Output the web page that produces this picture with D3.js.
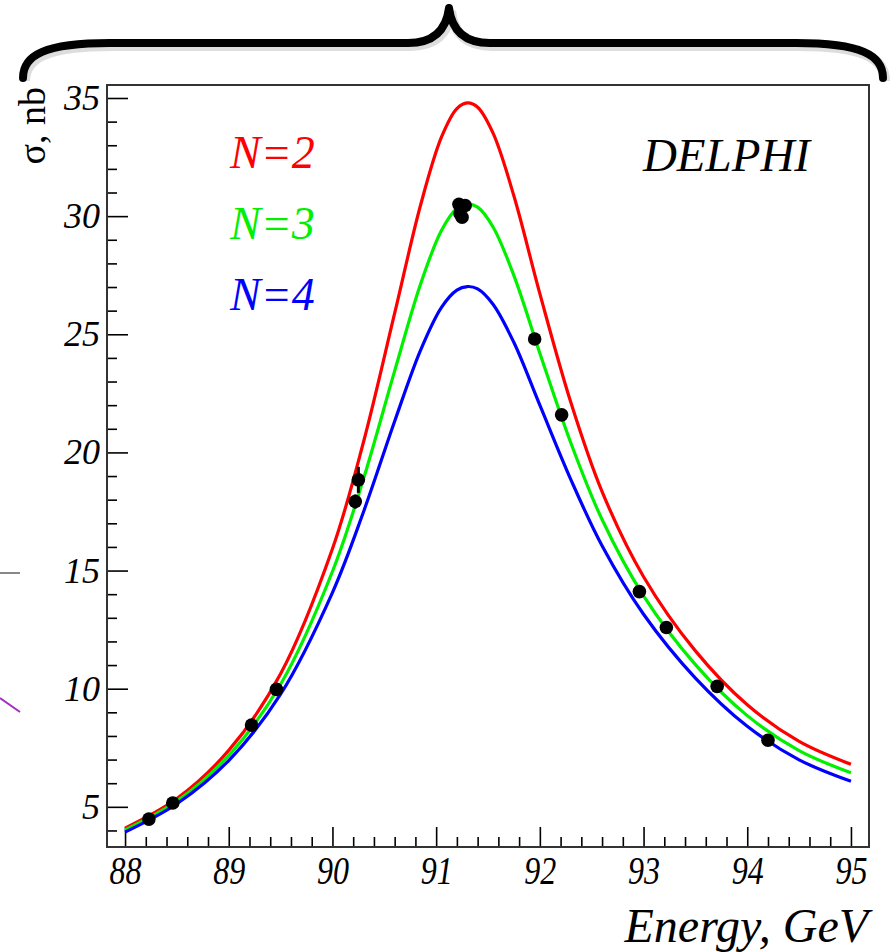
<!DOCTYPE html>
<html>
<head>
<meta charset="utf-8">
<script src="https://cdn.jsdelivr.net/npm/d3@7"></script>
<style>
	html, body { margin: 0; padding: 0; background: #fff; }
	svg { display: block; }
	text { font-family: "Liberation Serif", "DejaVu Serif", serif; }
</style>
</head>
<body>
<svg id="svgarea" width="893" height="952"></svg>
<script>
// curve sample energies (GeV)
const energies	= [88, 88.5, 89, 89.5, 90, 90.3, 90.6, 90.85, 91.05, 91.2, 91.3, 91.4, 91.55, 91.75, 92.0, 92.3, 92.6, 93.0, 93.5, 94.0, 94.5, 95.0];
// cross sections, nb
const sigmaN2	= [4.10, 5.35, 7.39, 10.63, 15.92, 20.45, 25.89, 30.47, 33.33, 34.55, 34.79, 34.61, 33.50, 30.85, 26.72, 22.10, 18.34, 14.74, 11.60, 9.32, 7.77, 6.80];
const sigmaN3	= [4.02, 5.24, 7.17, 10.19, 14.96, 18.89, 23.45, 27.13, 29.38, 30.33, 30.51, 30.38, 29.53, 27.48, 24.20, 20.39, 17.16, 13.93, 11.02, 8.86, 7.38, 6.44];
const sigmaN4	= [3.93, 5.13, 6.96, 9.77, 14.07, 17.49, 21.32, 24.33, 26.13, 26.87, 27.02, 26.92, 26.26, 24.65, 22.00, 18.84, 16.05, 13.15, 10.45, 8.41, 6.99, 6.08];

const curveLabels	= ['N=2', 'N=3', 'N=4'];
const curveColors	= ['#ff0000', '#00f000', '#0000ff'];

// DELPHI measurements
const dataE		= [88.23, 88.46, 89.22, 89.46, 90.22, 90.25, 91.22, 91.28, 91.23, 91.25, 91.95, 92.21, 92.96, 93.22, 93.71, 94.2];
const dataSigma	= [4.48, 5.16, 8.46, 9.97, 17.92, 18.84, 30.50, 30.45, 30.10, 29.95, 24.80, 21.59, 14.11, 12.59, 10.10, 7.82];
const dataErr	= [0.08, 0.10, 0.15, 0.15, 0.30, 0.55, 0.10, 0.10, 0.10, 0.10, 0.20, 0.20, 0.15, 0.15, 0.12, 0.12];

const xMajor	= [88, 89, 90, 91, 92, 93, 94, 95];
const yMajor	= [5, 10, 15, 20, 25, 30, 35];

const frame = {left: 107, right: 869, top: 85, bottom: 847};

var svg = d3.select('#svgarea');

var x = d3.scaleLinear().domain([87.826, 95.174]).range([frame.left, frame.right]);
var y = d3.scaleLinear().domain([3.3, 35.55]).range([frame.bottom, frame.top]);

// the brace above the chart
var brace = 'M23,78 C23,55 45,43 110,43 L408,43 C432,43 446,32 449,8 ' +
			'C452,32 466,43 490,43 L796,43 C861,43 883,55 883,78';
svg.append('path').attr('d', brace).
	attr('fill', 'none').attr('stroke', '#bbb').attr('stroke-width', 10).
	attr('transform', 'translate(2,3)').attr('opacity', 0.5);
svg.append('path').attr('d', brace).
	attr('fill', 'none').attr('stroke', '#000').attr('stroke-width', 8).
	attr('stroke-linecap', 'round').attr('stroke-linejoin', 'round');

// leftovers from the slide on the left edge
svg.append('line').attr('x1', 0).attr('y1', 573).attr('x2', 20).attr('y2', 573).
	attr('stroke', '#888').attr('stroke-width', 2);
svg.append('line').attr('x1', 0).attr('y1', 698).attr('x2', 20).attr('y2', 712).
	attr('stroke', '#a030c0').attr('stroke-width', 2);

var g = svg.append('g');

// minor ticks
var xMinor = d3.range(88, 95.01, 0.2).filter(function(d){ return Math.abs(d - Math.round(d)) > 0.01; });
var yMinor = d3.range(4, 35.5, 1).filter(function(d){ return d % 5 !== 0; });

g.append('g').attr('transform', 'translate(0,' + frame.bottom + ')').
	call(d3.axisBottom(x).tickValues(xMinor).tickSize(-10).tickFormat('')).
	call(function(a){ a.select('.domain').remove(); });
g.append('g').attr('transform', 'translate(' + frame.left + ',0)').
	call(d3.axisLeft(y).tickValues(yMinor).tickSize(-10).tickFormat('')).
	call(function(a){ a.select('.domain').remove(); });

// major ticks with labels
var xAxis = g.append('g').attr('transform', 'translate(0,' + frame.bottom + ')').
	call(d3.axisBottom(x).tickValues(xMajor).tickSize(-20).tickPadding(9).tickFormat(d3.format('d')));
xAxis.select('.domain').remove();
xAxis.selectAll('text').
	attr('font-size', 40).attr('font-style', 'italic').attr('fill', '#000').
	attr('transform', 'scale(0.8,1)');

var yAxis = g.append('g').attr('transform', 'translate(' + frame.left + ',0)').
	call(d3.axisLeft(y).tickValues(yMajor).tickSize(-21).tickPadding(7).tickFormat(d3.format('d')));
yAxis.select('.domain').remove();
yAxis.selectAll('text').
	attr('font-size', 36).attr('font-style', 'italic').attr('fill', '#000');

g.selectAll('.tick line').attr('stroke', '#000').attr('stroke-width', 1.6);

// curves
var sigmas = [sigmaN2, sigmaN3, sigmaN4];
var line = d3.line().
	x(function(d){ return x(d[0]); }).
	y(function(d){ return y(d[1]); }).
	curve(d3.curveCatmullRom.alpha(0.5));

sigmas.forEach(function(s, i){
	g.append('path').
		datum(energies.map(function(e, k){ return [e, s[k]]; })).
		attr('d', line).
		attr('fill', 'none').
		attr('stroke', curveColors[i]).
		attr('stroke-width', 3.2);
});

// data points with error bars
var points = dataE.map(function(e, k){ return {e: e, s: dataSigma[k], err: dataErr[k]}; });
g.selectAll('line.err').data(points).enter().append('line').
	attr('class', 'err').
	attr('x1', function(d){ return x(d.e); }).
	attr('x2', function(d){ return x(d.e); }).
	attr('y1', function(d){ return y(d.s - d.err); }).
	attr('y2', function(d){ return y(d.s + d.err); }).
	attr('stroke', '#000').attr('stroke-width', 3);
g.selectAll('circle').data(points).enter().append('circle').
	attr('cx', function(d){ return x(d.e); }).
	attr('cy', function(d){ return y(d.s); }).
	attr('r', 6.8).
	attr('fill', '#000');

// frame
g.append('rect').
	attr('x', frame.left).attr('y', frame.top).
	attr('width', frame.right - frame.left).attr('height', frame.bottom - frame.top).
	attr('fill', 'none').attr('stroke', '#333').attr('stroke-width', 2);

// legend
curveLabels.forEach(function(t, i){
	g.append('text').
		attr('x', 230).attr('y', 168 + i * 71).
		attr('font-size', 46).attr('font-style', 'italic').
		attr('fill', curveColors[i]).
		text(t);
});

g.append('text').
	attr('x', 810).attr('y', 171).
	attr('text-anchor', 'end').
	attr('font-size', 47).attr('font-style', 'italic').
	text('DELPHI');

// axis titles
g.append('text').
	attr('x', 868).attr('y', 942).
	attr('text-anchor', 'end').
	attr('font-size', 48).attr('font-style', 'italic').
	text('Energy, GeV');

g.append('text').
	attr('transform', 'translate(45,87) rotate(-90)').
	attr('text-anchor', 'end').
	attr('font-size', 38).
	text('σ, nb');
</script>
</body>
</html>
